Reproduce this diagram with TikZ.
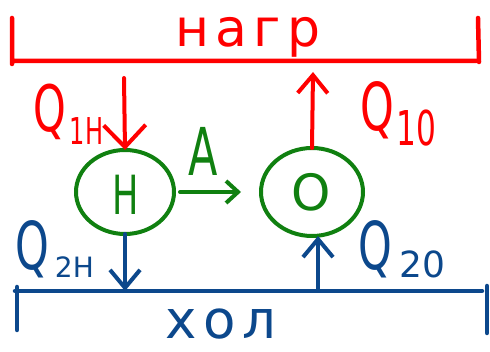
\documentclass[tikz,border=0pt]{standalone}
\usepackage{fontspec}
\setmainfont{DejaVu Sans}
\newfontfamily\hand[FakeStretch=0.65]{DejaVu Sans}
\newfontfamily\spaced[LetterSpace=12]{DejaVu Sans}
\usetikzlibrary{arrows.meta,shapes.geometric}
\definecolor{hred}{RGB}{255,0,0}
\definecolor{hgreen}{RGB}{16,128,16}
\definecolor{hblue}{RGB}{12,72,140}
\begin{document}
\begin{tikzpicture}[x=1pt,y=-1pt,line cap=round,line join=round,
  stroke/.style={line width=4pt},
  bigarrow/.style={stroke,-{Straight Barb[length=22pt,width=42pt]}},
  midarrow/.style={stroke,-{Straight Barb[length=18pt,width=30pt]}},
  smallarrow/.style={stroke,-{Straight Barb[length=12pt,width=22pt]}},
  engine/.style={ellipse,draw=hgreen,stroke,inner sep=0pt,outer sep=0pt},
  lbl/.style={inner sep=0pt,anchor=base west}]
\useasboundingbox (0,0) rectangle (490,352);
% hot reservoir
\draw[hred,stroke,line width=4.5pt] (12,18) -- (12,64) (12,61) -- (476,61) (478,18) -- (479,62);
\node[hred,inner sep=0pt,anchor=base] (hot) at (248,47) {\spaced\fontsize{52}{52}\selectfont нагр};
% cold reservoir
\draw[hblue,stroke,line width=4.5pt] (17,287) -- (17,330) (15,291) -- (482,291) (487,286) -- (487,333);
\node[hblue,inner sep=0pt,anchor=base,text depth=0pt] (cold) at (221,339) {\spaced\fontsize{53}{53}\selectfont хол};
% engines
\node[engine,minimum width=98pt,minimum height=84pt] (H) at (125,192) {};
\node[hgreen,inner sep=0pt] (Htext) at (126,195) {\hand\fontsize{54}{54}\selectfont H};
\node[engine,minimum width=102pt,minimum height=88pt] (O) at (312,192) {};
\node[hgreen,inner sep=0pt] (Otext) at (311,192) {\fontsize{50}{50}\selectfont O};
% work
\draw[hgreen,smallarrow] ([xshift=6pt]H.east) -- ([xshift=-20pt]O.west);
\node[hgreen,inner sep=0pt] (A) at (203,151) {\hand\fontsize{66}{66}\selectfont A};
% heat flows
\coordinate (q1top) at (124,78);
\draw[hred,bigarrow] (q1top) -- (H.north);
\coordinate (q10top) at (313,72);
\draw[hred,midarrow] (O.north) -- (q10top);
\coordinate (q2bot) at (125,291);
\draw[hblue,midarrow] (H.south) -- (q2bot);
\coordinate (q20bot) at (318,291);
\draw[hblue,midarrow] (q20bot) -- (O.south -| q20bot);
% labels
\node[hred,lbl] (lq1h) at (33,132) {{\hand\fontsize{64}{64}\selectfont Q}\hspace{4pt}\raisebox{-13pt}{\hand\fontsize{37}{37}\selectfont 1H}};
\node[hred,lbl] (lq10) at (360,131) {{\hand\fontsize{66}{66}\selectfont Q}\hspace{3pt}\raisebox{-15pt}{\hand\fontsize{48}{48}\selectfont 10}};
\node[hblue,lbl] (lq2h) at (15,270) {{\hand\fontsize{66}{66}\selectfont Q}\hspace{6pt}\raisebox{-8pt}{\fontsize{28}{28}\selectfont 2H}};
\node[hblue,lbl] (lq20) at (358,270) {{\hand\fontsize{66}{66}\selectfont Q}\hspace{8pt}\raisebox{-8pt}{\fontsize{36}{36}\selectfont 20}};
\end{tikzpicture}
\end{document}
